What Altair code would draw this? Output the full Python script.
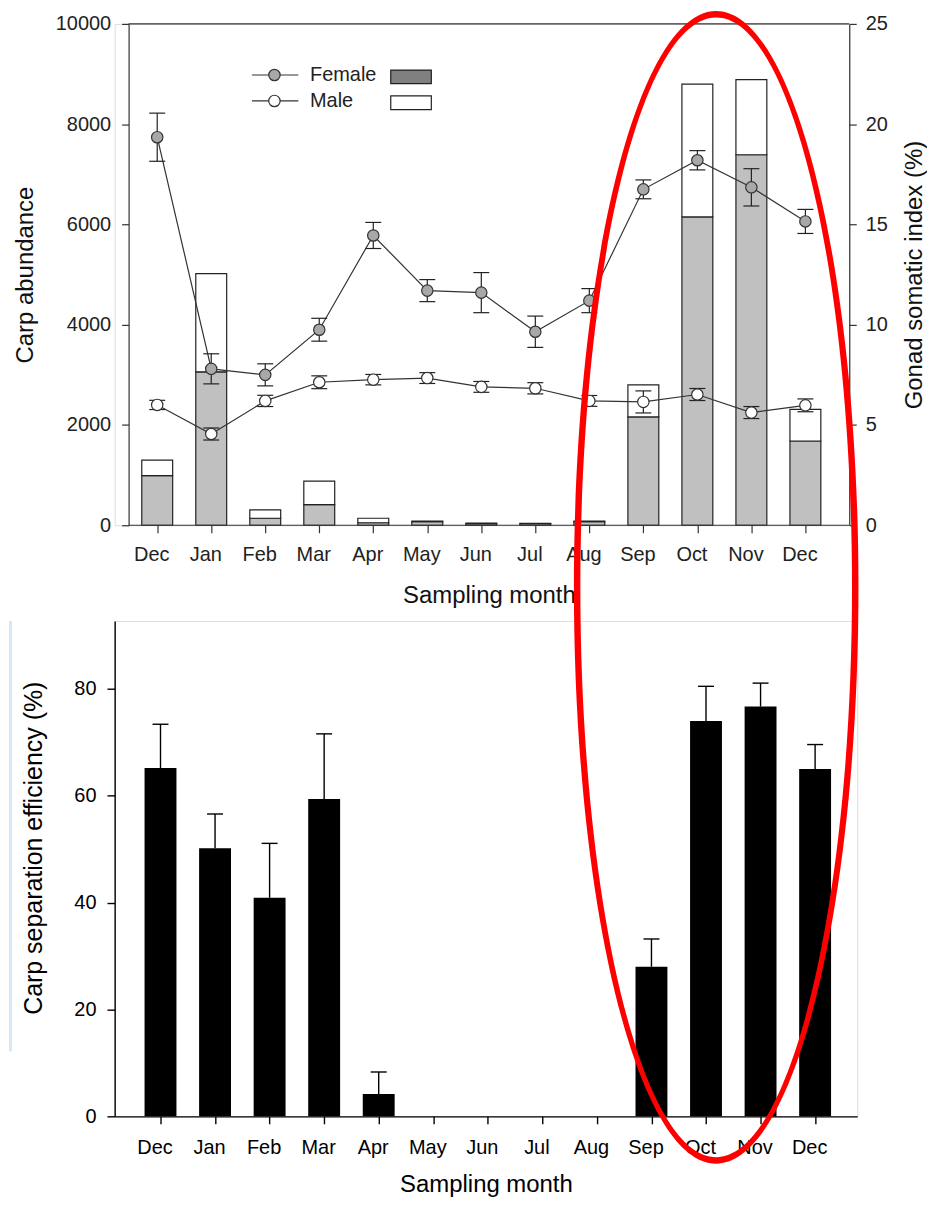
import altair as alt
import pandas as pd

# ---------------- data ----------------
months = ["Dec", "Jan", "Feb", "Mar", "Apr", "May", "Jun", "Jul", "Aug", "Sep", "Oct", "Nov", "Dec"]
idx = list(range(len(months)))

female_abund = [990, 3060, 140, 410, 50, 70, 30, 30, 70, 2160, 6150, 7390, 1680]
male_abund = [310, 1960, 165, 470, 90, 15, 15, 10, 15, 640, 2650, 1500, 630]

gsi_female = [19.35, 7.8, 7.5, 9.75, 14.45, 11.7, 11.6, 9.65, 11.2, 16.75, 18.2, 16.85, 15.15]
gsi_female_se = [1.2, 0.75, 0.55, 0.57, 0.65, 0.55, 1.0, 0.78, 0.6, 0.47, 0.48, 0.93, 0.6]
gsi_male = [6.0, 4.55, 6.2, 7.13, 7.26, 7.34, 6.9, 6.83, 6.2, 6.15, 6.52, 5.62, 5.98]
gsi_male_se = [0.23, 0.3, 0.28, 0.32, 0.26, 0.27, 0.27, 0.28, 0.27, 0.55, 0.3, 0.3, 0.32]

efficiency = [65.2, 50.2, 40.9, 59.4, 4.2, 0, 0, 0, 0, 28.0, 74.0, 76.7, 65.0]
efficiency_se = [8.2, 6.4, 10.2, 12.2, 4.1, 0, 0, 0, 0, 5.2, 6.5, 4.4, 4.6]

legend_labels = ["Female", "Male"]

# ---------------- tables ----------------
top_df = pd.DataFrame({
    "idx": idx,
    "month": months,
    "female": female_abund,
    "total": [f + m for f, m in zip(female_abund, male_abund)],
    "gf": gsi_female,
    "gf_lo": [v - e for v, e in zip(gsi_female, gsi_female_se)],
    "gf_hi": [v + e for v, e in zip(gsi_female, gsi_female_se)],
    "gm": gsi_male,
    "gm_lo": [v - e for v, e in zip(gsi_male, gsi_male_se)],
    "gm_hi": [v + e for v, e in zip(gsi_male, gsi_male_se)],
})
bot_df = pd.DataFrame({
    "idx": idx,
    "month": months,
    "eff": efficiency,
    "eff_hi": [v + e for v, e in zip(efficiency, efficiency_se)],
})

FONT = "Liberation Sans"
TXT_TOP = "#222222"
one = alt.Data(values=[{}])

# ---------------- top panel ----------------
W1, H1 = 737, 503
x_top = alt.X(
    "idx:Q",
    scale=alt.Scale(domain=[-0.788, 12.812], nice=False, zero=False, padding=0),
    axis=alt.Axis(
        values=idx, labels=False, domain=False, grid=False,
        tickSize=7.5, tickColor="#333333", tickWidth=1.2,
        title="Sampling month", titleFontSize=24, titleFontWeight="normal",
        titleColor="#111111", titleFont=FONT, titleX=375.5, titleY=58,
        titleBaseline="top",
    ),
)

y_left = alt.Y(
    "female:Q",
    scale=alt.Scale(domain=[0, 10000], nice=False, padding=0),
    axis=alt.Axis(
        values=[0, 2000, 4000, 6000, 8000, 10000], format="d", offset=-14,
        grid=False, domainColor="#333333", domainWidth=1.2,
        tickSize=7, tickColor="#333333", tickWidth=1.2,
        labelFontSize=20, labelColor=TXT_TOP, labelPadding=11, labelFont=FONT,
        title="Carp abundance", titleFontSize=24, titleFontWeight="normal",
        titleColor="#111111", titleFont=FONT, titlePadding=18,
    ),
)

bars_f = alt.Chart(top_df).mark_bar(
    size=31, fill="#c0c0c0", stroke="#222222", strokeWidth=1.2, opacity=1
).encode(x=x_top, y=y_left, y2=alt.datum(0))

bars_m = alt.Chart(top_df).mark_bar(
    size=31, fill="#ffffff", stroke="#222222", strokeWidth=1.2, opacity=1
).encode(x="idx:Q", y="total:Q", y2="female:Q")

# month labels (sit slightly left of their ticks, as in the original)
month_lbl_top = alt.Chart(top_df).mark_text(
    align="center", baseline="top", dx=-5.5, fontSize=20, font=FONT, color=TXT_TOP
).encode(x="idx:Q", y=alt.value(H1 + 7.5 + 12), text="month:N")

frame_top = alt.Chart(one).mark_rule(color="#333333", strokeWidth=1.2).encode(
    x=alt.value(14), x2=alt.value(W1), y=alt.value(0))
frame_bottom = alt.Chart(one).mark_rule(color="#333333", strokeWidth=1.2).encode(
    x=alt.value(14), x2=alt.value(W1), y=alt.value(H1))

legend_layers = []
legend_fills_pt = ["#a8a8a8", "#ffffff"]
legend_fills_box = ["#808080", "#ffffff"]
for i, lab in enumerate(legend_labels):
    yy = 51.3 + 26 * i
    legend_layers.append(alt.Chart(one).mark_rule(color="#333333", strokeWidth=1.2).encode(
        x=alt.value(137.7), x2=alt.value(184.3), y=alt.value(yy)))
    legend_layers.append(alt.Chart(one).mark_point(
        shape="circle", filled=True, size=130, fill=legend_fills_pt[i],
        stroke="#333333", strokeWidth=1.2, opacity=1).encode(
        x=alt.value(160.3), y=alt.value(yy)))
    legend_layers.append(alt.Chart(one).mark_text(
        text=lab, align="left", baseline="middle", fontSize=20, font=FONT,
        color=TXT_TOP).encode(x=alt.value(196), y=alt.value(yy)))
    legend_layers.append(alt.Chart(one).mark_rect(
        fill=legend_fills_box[i], stroke="#222222", strokeWidth=1.2).encode(
        x=alt.value(277), x2=alt.value(317.7), y=alt.value(yy - 5), y2=alt.value(yy + 8.7)))

left_layer = alt.layer(bars_f, bars_m, month_lbl_top, frame_top, frame_bottom, *legend_layers)

y_right = alt.Y(
    "gf:Q",
    scale=alt.Scale(domain=[0, 25], nice=False, padding=0),
    axis=alt.Axis(
        orient="right", values=[0, 5, 10, 15, 20, 25], grid=False,
        domainColor="#333333", domainWidth=1.2,
        tickSize=7, tickColor="#333333", tickWidth=1.2,
        labelFontSize=20, labelColor=TXT_TOP, labelPadding=9, labelFont=FONT,
        title="Gonad somatic index (%)", titleFontSize=24, titleFontWeight="normal",
        titleColor="#111111", titleFont=FONT, titlePadding=15,
        titleAngle=270, titleBaseline="top",
    ),
)

base_top = alt.Chart(top_df)
line_f = base_top.mark_line(color="#333333", strokeWidth=1.2).encode(x="idx:Q", y=y_right)
line_m = base_top.mark_line(color="#333333", strokeWidth=1.2).encode(x="idx:Q", y="gm:Q")
err_layers = []
for lo, hi in [("gf_lo", "gf_hi"), ("gm_lo", "gm_hi")]:
    err_layers.append(base_top.mark_rule(color="#222222", strokeWidth=1.2).encode(
        x="idx:Q", y=f"{lo}:Q", y2=f"{hi}:Q"))
    err_layers.append(base_top.mark_tick(orient="horizontal", size=16, thickness=1.2,
                                         color="#222222", opacity=1).encode(x="idx:Q", y=f"{lo}:Q"))
    err_layers.append(base_top.mark_tick(orient="horizontal", size=16, thickness=1.2,
                                         color="#222222", opacity=1).encode(x="idx:Q", y=f"{hi}:Q"))
pts_f = base_top.mark_point(shape="circle", filled=True, size=130, fill="#a8a8a8",
                            stroke="#333333", strokeWidth=1.2, opacity=1).encode(x="idx:Q", y="gf:Q")
pts_m = base_top.mark_point(shape="circle", filled=True, size=130, fill="#ffffff",
                            stroke="#333333", strokeWidth=1.2, opacity=1).encode(x="idx:Q", y="gm:Q")

right_layer = alt.layer(line_f, line_m, *err_layers, pts_f, pts_m)

top = alt.layer(left_layer, right_layer).resolve_scale(y="independent").properties(
    width=W1, height=H1)

# ---------------- bottom panel ----------------
W2, H2 = 745, 497
x_bot = alt.X(
    "idx:Q",
    scale=alt.Scale(domain=[-0.8405, 12.772], nice=False, zero=False, padding=0),
    axis=alt.Axis(
        values=idx, labels=False, grid=False,
        domainColor="#000000", domainWidth=1.4,
        tickSize=7.5, tickColor="#000000", tickWidth=1.4,
        title="Sampling month", titleFontSize=24, titleFontWeight="normal",
        titleColor="#000000", titleFont=FONT, titleY=56.5, titleBaseline="top",
    ),
)
y_bot = alt.Y(
    "eff:Q",
    scale=alt.Scale(domain=[0, 92.74], nice=False, padding=0),
    axis=alt.Axis(
        values=[0, 20, 40, 60, 80], grid=False,
        domainColor="#000000", domainWidth=1.4,
        tickSize=7.7, tickColor="#000000", tickWidth=1.4,
        labelFontSize=20, labelColor="#000000", labelPadding=11, labelFont=FONT,
        title="Carp separation efficiency (%)", titleFontSize=25, titleFontWeight="normal",
        titleColor="#000000", titleFont=FONT, titlePadding=27, titleY=227.5,
    ),
)
base_bot = alt.Chart(bot_df)
bars_e = base_bot.mark_bar(size=32, color="#000000", opacity=1).encode(
    x=x_bot, y=y_bot, y2=alt.datum(0))
err_e = base_bot.transform_filter("datum.eff > 0").mark_rule(
    color="#000000", strokeWidth=1.4).encode(x="idx:Q", y="eff:Q", y2="eff_hi:Q")
cap_e = base_bot.transform_filter("datum.eff > 0").mark_tick(
    orient="horizontal", size=16, thickness=1.4, color="#000000", opacity=1).encode(
    x="idx:Q", y="eff_hi:Q")
month_lbl_bot = base_bot.mark_text(
    align="center", baseline="top", dx=-5.5, fontSize=20, font=FONT, color="#000000"
).encode(x="idx:Q", y=alt.value(H2 + 7.5 + 14.5), text="month:N")

band = alt.Chart(one).mark_rect(fill="#d5e8f7").encode(
    x=alt.value(-106), x2=alt.value(-103), y=alt.value(0), y2=alt.value(432))

# red highlight ellipse drawn as a filled ring (outer ellipse + reversed inner ellipse)
ellipse_path = (
    "M0,-1A0.24687,1,0,1,1,0,1A0.24687,1,0,1,1,0,-1Z"
    "M0,-0.98876A0.23563,0.98876,0,1,0,0,0.98876A0.23563,0.98876,0,1,0,0,-0.98876Z"
)
ellipse = alt.Chart(one).mark_point(
    shape=ellipse_path, size=1156.5 ** 2, filled=True, color="#ff0000",
    opacity=1).encode(x=alt.value(603.5), y=alt.value(-33.75))

bottom = alt.layer(band, bars_e, err_e, cap_e, month_lbl_bot, ellipse).properties(
    width=W2, height=H2)

chart = alt.vconcat(top, bottom, spacing=96, bounds="flush").properties(
    padding=0
).configure_view(stroke=None).configure(font=FONT)

chart.save("out.html", embed_options={"renderer": "svg", "actions": False})
